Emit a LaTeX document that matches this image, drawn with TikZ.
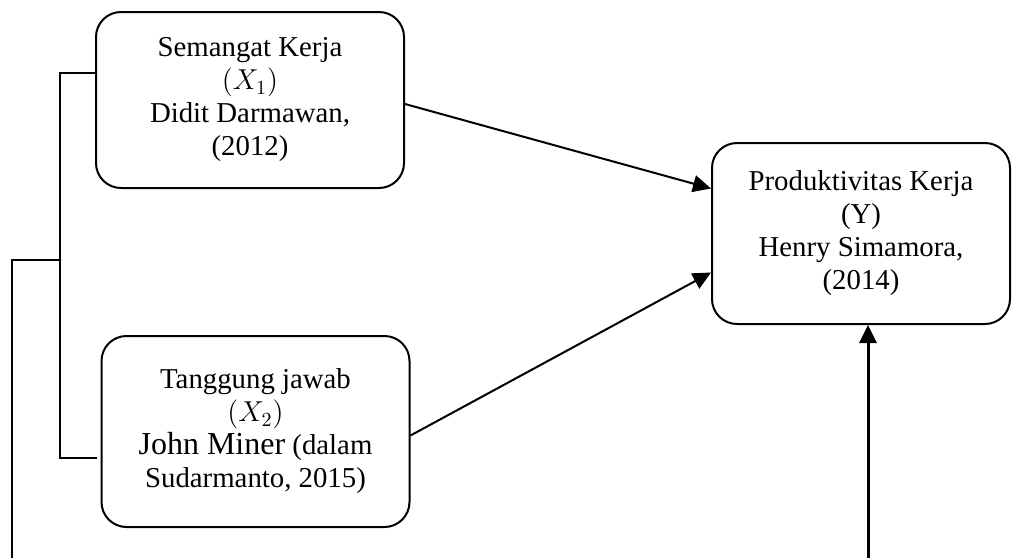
\documentclass[tikz,border=0pt]{standalone}
\usepackage{fontspec}
\setmainfont{Liberation Serif}
\usetikzlibrary{arrows.meta,calc}
\tikzset{
    varbox/.style={draw, line width=1pt, rounded corners=12.5pt, align=center,
        font=\fontsize{14.4}{16.5}\selectfont},
    link/.style={line width=1pt, -{Triangle[length=9pt,width=8.5pt]}},
    bracket/.style={line width=0.6pt}
}
\begin{document}
\begin{tikzpicture}[x=0.5pt,y=-0.5pt]
    \useasboundingbox (0,0) rectangle (1014,558);
    \node[varbox, minimum width=154pt, minimum height=88pt] (x1) at (250,100)
        {Semangat Kerja\\ $(X_1)$\\ Didit Darmawan,\\ (2012)};
    \node[varbox, minimum width=154pt, minimum height=95.5pt] (x2) at (255.5,431.5)
        {Tanggung jawab\\ $(X_2)$\\ {\fontsize{16}{16.5}\selectfont John Miner} (dalam\\ Sudarmanto, 2015)};
    \node[varbox, minimum width=149pt, minimum height=90.5pt] (y) at (861,233.5)
        {Produktivitas Kerja\\ (Y)\\ Henry Simamora,\\ (2014)};
    % arrows into Y
    \draw[link] ($(x1.east)+(0,4)$) -- ($(y.west)+(0,-45)$);
    \draw[link] ($(x2.east)+(0,4)$) -- ($(y.west)+(0,39)$);
    \coordinate (ybot) at (868,558);
    \draw[link, line width=1.5pt] (ybot) -- (ybot |- y.south);
    % bracket on the left
    \coordinate (top) at (60,73);
    \coordinate (low) at (60,458);
    \coordinate (mid) at (60,260);
    \coordinate (far) at (12,260);
    \draw[bracket] (top -| x1.west) -- (top) -- (low) -- ($(low -| x2.west)+(-4,0)$);
    \draw[bracket] (mid) -- (far) -- (12,558);
\end{tikzpicture}
\end{document}
